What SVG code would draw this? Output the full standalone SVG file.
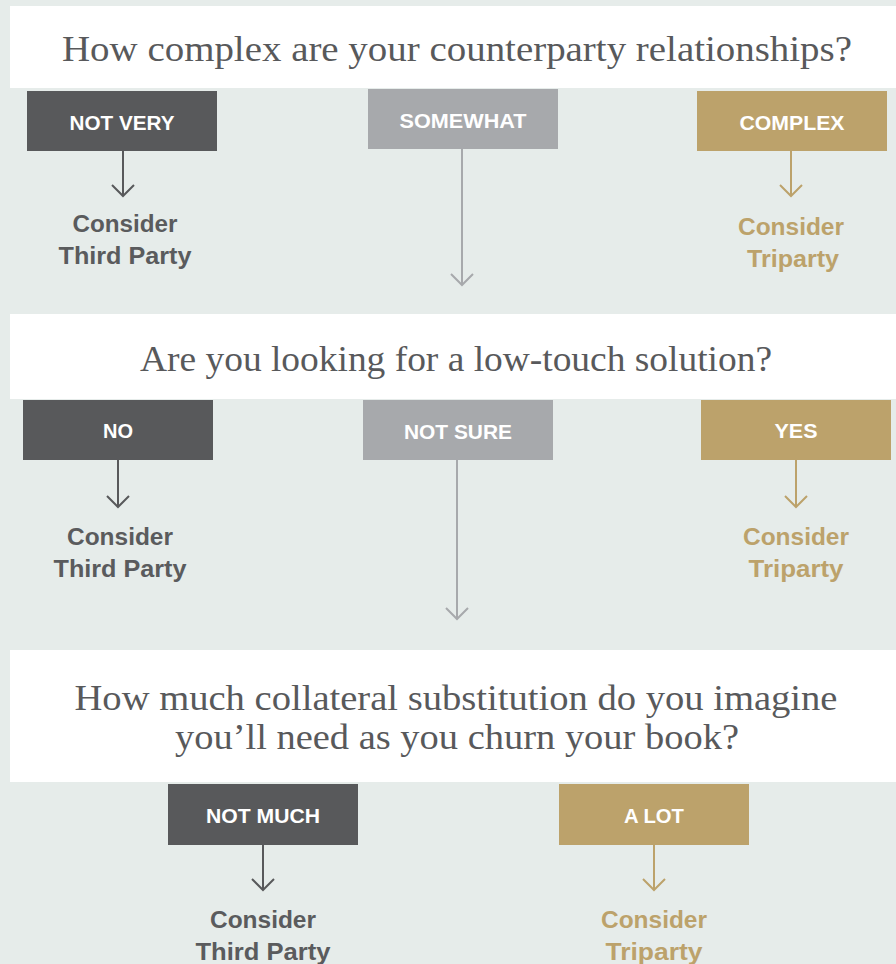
<svg xmlns="http://www.w3.org/2000/svg" width="896" height="964" viewBox="0 0 896 964">
<defs>
<style>
.bg{fill:#e6ecea}
.banner{fill:#ffffff}
.q{font-family:"Liberation Serif","Times New Roman",serif;font-size:36px;fill:#58595b;text-anchor:middle}
.dark{fill:#58595b}
.light{fill:#a7a9ac}
.gold{fill:#bca26b}
.lbl{font-family:"Liberation Sans",Arial,sans-serif;font-weight:bold;font-size:20.5px;fill:#ffffff;text-anchor:middle}
.res{font-family:"Liberation Sans",Arial,sans-serif;font-weight:bold;font-size:23px;text-anchor:middle}
.resd{fill:#5a5b5d}
.resg{fill:#bca26b}
.ln{fill:none;stroke-width:2;stroke-linecap:butt;stroke-linejoin:miter}
.ld{stroke:#58595b}
.ll{stroke:#a7a9ac}
.lg{stroke:#bca26b}
</style>
</defs>
<rect class="bg" x="0" y="0" width="896" height="964"/>

<g id="q1">
<rect class="banner" x="10" y="6" width="886" height="82"/>
<text class="q" x="457" y="61" textLength="790" lengthAdjust="spacingAndGlyphs">How complex are your counterparty relationships?</text>
</g>
<g id="q1-notvery">
<rect class="dark" x="27" y="91" width="190" height="60"/>
<text class="lbl" x="122" y="130" textLength="105" lengthAdjust="spacingAndGlyphs">NOT VERY</text>
</g>
<g id="q1-somewhat">
<rect class="light" x="368" y="89" width="190" height="60"/>
<text class="lbl" x="463" y="128" textLength="127" lengthAdjust="spacingAndGlyphs">SOMEWHAT</text>
</g>
<g id="q1-complex">
<rect class="gold" x="697" y="91" width="190" height="60"/>
<text class="lbl" x="792" y="130" textLength="105" lengthAdjust="spacingAndGlyphs">COMPLEX</text>
</g>
<g id="q1-r1">
<text class="res resd" x="125" y="232" textLength="105" lengthAdjust="spacingAndGlyphs">Consider</text>
<text class="res resd" x="125" y="264" textLength="133" lengthAdjust="spacingAndGlyphs">Third Party</text>
</g>
<g id="q1-r3">
<text class="res resg" x="791" y="235" textLength="106" lengthAdjust="spacingAndGlyphs">Consider</text>
<text class="res resg" x="793" y="267" textLength="92" lengthAdjust="spacingAndGlyphs">Triparty</text>
</g>

<g id="q2">
<rect class="banner" x="10" y="314" width="886" height="85"/>
<text class="q" x="456" y="371" textLength="632" lengthAdjust="spacingAndGlyphs">Are you looking for a low-touch solution?</text>
</g>
<g id="q2-no">
<rect class="dark" x="23" y="400" width="190" height="60"/>
<text class="lbl" x="118" y="438" textLength="30" lengthAdjust="spacingAndGlyphs">NO</text>
</g>
<g id="q2-notsure">
<rect class="light" x="363" y="400" width="190" height="60"/>
<text class="lbl" x="458" y="439" textLength="108" lengthAdjust="spacingAndGlyphs">NOT SURE</text>
</g>
<g id="q2-yes">
<rect class="gold" x="701" y="400" width="190" height="60"/>
<text class="lbl" x="796" y="438" textLength="43" lengthAdjust="spacingAndGlyphs">YES</text>
</g>
<g id="q2-r1">
<text class="res resd" x="120" y="545" textLength="106" lengthAdjust="spacingAndGlyphs">Consider</text>
<text class="res resd" x="120" y="577" textLength="133" lengthAdjust="spacingAndGlyphs">Third Party</text>
</g>
<g id="q2-r3">
<text class="res resg" x="796" y="545" textLength="106" lengthAdjust="spacingAndGlyphs">Consider</text>
<text class="res resg" x="796" y="577" textLength="95" lengthAdjust="spacingAndGlyphs">Triparty</text>
</g>

<g id="q3">
<rect class="banner" x="10" y="650" width="886" height="132"/>
<text class="q" x="456" y="710" textLength="763" lengthAdjust="spacingAndGlyphs">How much collateral substitution do you imagine</text>
<text class="q" x="457" y="749" textLength="564" lengthAdjust="spacingAndGlyphs">you’ll need as you churn your book?</text>
</g>
<g id="q3-notmuch">
<rect class="dark" x="168" y="784" width="190" height="61"/>
<text class="lbl" x="263" y="823" textLength="114" lengthAdjust="spacingAndGlyphs">NOT MUCH</text>
</g>
<g id="q3-alot">
<rect class="gold" x="559" y="784" width="190" height="61"/>
<text class="lbl" x="654" y="823" textLength="60" lengthAdjust="spacingAndGlyphs">A LOT</text>
</g>
<g id="q3-r1">
<text class="res resd" x="263" y="928" textLength="106" lengthAdjust="spacingAndGlyphs">Consider</text>
<text class="res resd" x="263" y="960" textLength="135" lengthAdjust="spacingAndGlyphs">Third Party</text>
</g>
<g id="q3-r2">
<text class="res resg" x="654" y="928" textLength="106" lengthAdjust="spacingAndGlyphs">Consider</text>
<text class="res resg" x="654" y="960" textLength="97" lengthAdjust="spacingAndGlyphs">Triparty</text>
</g>

<g id="connectors">
<path class="ln ld" d="M123 151V196M112 185L123 196L134 185"/>
<path class="ln ll" d="M462 149V285M451 274L462 285L473 274"/>
<path class="ln lg" d="M791 151V196M780 185L791 196L802 185"/>
<path class="ln ld" d="M118 460V507M107 496L118 507L129 496"/>
<path class="ln ll" d="M457 460V619M446 608L457 619L468 608"/>
<path class="ln lg" d="M796 460V507M785 496L796 507L807 496"/>
<path class="ln ld" d="M263 845V890M252 879L263 890L274 879"/>
<path class="ln lg" d="M654 845V890M643 879L654 890L665 879"/>
</g>
</svg>
